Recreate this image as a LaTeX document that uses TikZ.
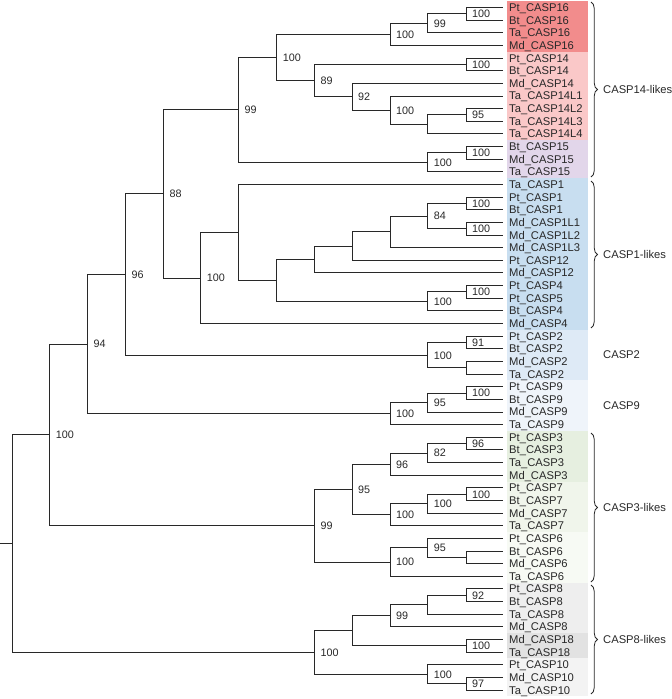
\documentclass[tikz,border=0pt]{standalone}
\usepackage{fontspec}
\setmainfont{Liberation Sans}
\usetikzlibrary{calc,decorations.pathreplacing}
\definecolor{c16}{RGB}{242,140,140}
\definecolor{c14}{RGB}{250,200,200}
\definecolor{c15}{RGB}{226,214,234}
\definecolor{c1}{RGB}{200,222,240}
\definecolor{c2}{RGB}{222,234,246}
\definecolor{c9}{RGB}{239,244,250}
\definecolor{c3}{RGB}{230,239,224}
\definecolor{c7}{RGB}{240,245,235}
\definecolor{c6}{RGB}{247,250,244}
\definecolor{c8}{RGB}{238,238,238}
\definecolor{c18}{RGB}{226,226,226}
\definecolor{c10}{RGB}{243,243,243}
\definecolor{ink}{RGB}{40,40,40}
\tikzset{
  br/.style={draw=ink, line width=0.9pt},
  leaf/.style={anchor=west, inner xsep=6pt, inner ysep=0pt, text height=8.5pt, text depth=0.5pt, text=ink, font=\fontsize{11.2}{13}\selectfont},
  bs/.style={anchor=west, inner sep=0pt, xshift=6pt, text height=7.8pt, text depth=0pt, text=ink, font=\fontsize{10.8}{12}\selectfont},
  grplab/.style={anchor=west, inner sep=0pt, text height=8.5pt, text depth=0.5pt, text=ink, font=\fontsize{11.2}{13}\selectfont},
  brc/.style={draw=ink, line width=0.8pt, decorate, decoration={brace, amplitude=6.5pt}}
}
\newcommand\tn[5]{%
  \path ($(#3)!0.5!(#4)$) coordinate (tmp);
  \coordinate (#1) at (tmp -| #2);
  \draw[br] (#1) |- (#3);
  \draw[br] (#1) |- (#4);
  \node[bs] (b#1) at (#1) {#5};}
\newcommand\grp[3]{\fill[#1] (507,{1.18+12.64*#2}) rectangle (588,{13.82+12.64*#3});}
\begin{document}
\begin{tikzpicture}[x=1pt,y=-1pt]
\useasboundingbox (0,0) rectangle (672,699);
% colour bands
\grp{c16}{0}{3}
\grp{c14}{4}{10}
\grp{c15}{11}{13}
\grp{c1}{14}{25}
\grp{c2}{26}{29}
\grp{c9}{30}{33}
\grp{c3}{34}{37}
\grp{c7}{38}{41}
\grp{c6}{42}{45}
\grp{c8}{46}{49}
\grp{c18}{50}{51}
\grp{c10}{52}{54}
% x levels
\coordinate (xa) at (466,0);
\coordinate (xb) at (427.7,0);
\coordinate (xc) at (390,0);
\coordinate (xd) at (352,0);
\coordinate (xe) at (314.3,0);
\coordinate (xf) at (276.7,0);
\coordinate (xg) at (238.3,0);
\coordinate (xh) at (200.7,0);
\coordinate (xi) at (163.3,0);
\coordinate (xj) at (125.3,0);
\coordinate (xk) at (87.3,0);
\coordinate (xm) at (49.7,0);
\coordinate (xr) at (12,0);
% leaves
\foreach \nm [count=\i from 0] in {Pt\_CASP16,Bt\_CASP16,Ta\_CASP16,Md\_CASP16,Pt\_CASP14,Bt\_CASP14,Md\_CASP14,Ta\_CASP14L1,Ta\_CASP14L2,Ta\_CASP14L3,Ta\_CASP14L4,Bt\_CASP15,Md\_CASP15,Ta\_CASP15,Ta\_CASP1,Pt\_CASP1,Bt\_CASP1,Md\_CASP1L1,Md\_CASP1L2,Md\_CASP1L3,Pt\_CASP12,Md\_CASP12,Pt\_CASP4,Pt\_CASP5,Bt\_CASP4,Md\_CASP4,Pt\_CASP2,Bt\_CASP2,Md\_CASP2,Ta\_CASP2,Pt\_CASP9,Bt\_CASP9,Md\_CASP9,Ta\_CASP9,Pt\_CASP3,Bt\_CASP3,Ta\_CASP3,Md\_CASP3,Pt\_CASP7,Bt\_CASP7,Md\_CASP7,Ta\_CASP7,Pt\_CASP6,Bt\_CASP6,Md\_CASP6,Ta\_CASP6,Pt\_CASP8,Bt\_CASP8,Ta\_CASP8,Md\_CASP8,Md\_CASP18,Ta\_CASP18,Pt\_CASP10,Md\_CASP10,Ta\_CASP10}
  {\node[leaf] (l\i) at (503,{7.5+12.64*\i}) {\nm};}
% tree
\tn{n16a}{xa}{l0}{l1}{100}
\tn{n16b}{xb}{n16a}{l2}{99}
\tn{n16c}{xc}{n16b}{l3}{100}
\tn{n14a}{xa}{l4}{l5}{100}
\tn{n14f}{xa}{l8}{l9}{95}
\tn{n14g}{xb}{n14f}{l10}{}
\tn{n14c}{xc}{l7}{n14g}{100}
\tn{n14d}{xd}{l6}{n14c}{92}
\tn{n14e}{xe}{n14a}{n14d}{89}
\tn{n1614}{xf}{n16c}{n14e}{100}
\tn{n15a}{xa}{l11}{l12}{100}
\tn{n15b}{xb}{n15a}{l13}{100}
\tn{nA}{xg}{n1614}{n15b}{99}
\tn{n1a}{xa}{l15}{l16}{100}
\tn{n1b}{xa}{l17}{l18}{100}
\tn{n1c}{xb}{n1a}{n1b}{84}
\tn{n1d}{xc}{n1c}{l19}{}
\tn{n1e}{xd}{n1d}{l20}{}
\tn{n1f}{xe}{n1e}{l21}{}
\tn{n4a}{xa}{l22}{l23}{100}
\tn{n4b}{xb}{n4a}{l24}{100}
\tn{n1g}{xf}{n1f}{n4b}{}
\tn{n1h}{xg}{l14}{n1g}{}
\tn{n1i}{xh}{n1h}{l25}{100}
\tn{nB}{xi}{nA}{n1i}{88}
\tn{n2a}{xa}{l26}{l27}{91}
\tn{n2b}{xa}{l28}{l29}{}
\tn{n2c}{xb}{n2a}{n2b}{100}
\tn{nC}{xj}{nB}{n2c}{96}
\tn{n9a}{xa}{l30}{l31}{100}
\tn{n9b}{xb}{n9a}{l32}{95}
\tn{n9c}{xc}{n9b}{l33}{100}
\tn{nD}{xk}{nC}{n9c}{94}
\tn{n3a}{xa}{l34}{l35}{96}
\tn{n3b}{xb}{n3a}{l36}{82}
\tn{n3c}{xc}{n3b}{l37}{96}
\tn{n7a}{xa}{l38}{l39}{100}
\tn{n7b}{xb}{n7a}{l40}{100}
\tn{n7c}{xc}{n7b}{l41}{100}
\tn{n37}{xd}{n3c}{n7c}{95}
\tn{n6a}{xa}{l43}{l44}{}
\tn{n6b}{xb}{l42}{n6a}{95}
\tn{n6c}{xc}{n6b}{l45}{100}
\tn{nE}{xe}{n37}{n6c}{99}
\tn{nF}{xm}{nD}{nE}{100}
\tn{n8a}{xa}{l46}{l47}{92}
\tn{n8b}{xb}{n8a}{l48}{}
\tn{n8c}{xc}{n8b}{l49}{99}
\tn{n18}{xa}{l50}{l51}{100}
\tn{n818}{xd}{n8c}{n18}{}
\tn{n10a}{xa}{l53}{l54}{97}
\tn{n10b}{xb}{l52}{n10a}{100}
\tn{n8d}{xe}{n818}{n10b}{100}
\tn{root}{xr}{nF}{n8d}{}
\path (root) ++(-12,0) coordinate (stub);
\draw[br] (stub) -- (root);
% braces and group labels
\coordinate (t14) at (591,2);   \coordinate (e14) at (591,177);
\coordinate (t1) at (591,181);  \coordinate (e1) at (591,328);
\coordinate (t3) at (591,433);  \coordinate (e3) at (591,582);
\coordinate (t8) at (591,585);  \coordinate (e8) at (591,694);
\draw[brc] (t14) -- (e14);
\draw[brc] (t1) -- (e1);
\draw[brc] (t3) -- (e3);
\draw[brc] (t8) -- (e8);
\node[grplab] (g14) at (603,89.5) {CASP14-likes};
\node[grplab] (g1) at (603,254.5) {CASP1-likes};
\node[grplab] (g2) at (603,354) {CASP2};
\node[grplab] (g9) at (603,405) {CASP9};
\node[grplab] (g3) at (603,507.5) {CASP3-likes};
\node[grplab] (g8) at (603,639.5) {CASP8-likes};
\end{tikzpicture}
\end{document}
